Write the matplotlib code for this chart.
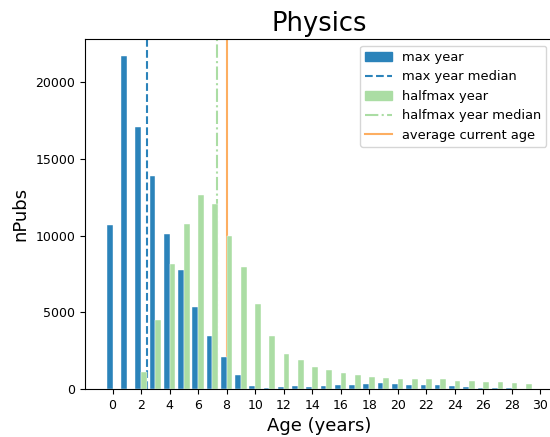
import numpy as np
import matplotlib
matplotlib.use("Agg")
import matplotlib.pyplot as plt
from matplotlib.patches import Patch
from matplotlib.lines import Line2D

# ── Data ──
ages = np.arange(0, 30)
max_year = [10670, 21730, 17050, 13900, 10080, 7740, 5340, 3430, 2060, 890,
            200, 70, 130, 200, 130, 200, 260, 260, 330, 390,
            330, 240, 260, 260, 180, 130, 70, 70, 70, 0]
halfmax_year = [0, 0, 1090, 4470, 8180, 10750, 12670, 12060, 10000, 7980,
                5510, 3430, 2310, 1860, 1420, 1240, 1020, 910, 780, 730,
                670, 620, 620, 620, 490, 490, 430, 430, 360, 310]
max_median = 2.45
halfmax_median = 7.32
avg_current_age = 8.0

c_blue = "#2b83ba"
c_green = "#abdda4"
c_orange = "#fdae61"

# ── Plot ──
fig = plt.figure(figsize=(5.5, 4.37), dpi=100)
ax = fig.add_axes([85 / 550, 48 / 437, 468 / 550, 350 / 437])

ax.bar(ages - 0.4, max_year, width=0.4, align="edge", color=c_blue,
       edgecolor="white", linewidth=0.3, zorder=2)
ax.bar(ages, halfmax_year, width=0.4, align="edge", color=c_green,
       edgecolor="white", linewidth=0.3, zorder=2)
# median / average lines sit behind the bars
ax.axvline(max_median, color=c_blue, linestyle="--", linewidth=1.5, zorder=1)
ax.axvline(halfmax_median, color=c_green, linestyle="-.", linewidth=1.5, zorder=1)
ax.axvline(avg_current_age, color=c_orange, linestyle="-", linewidth=1.5, zorder=1)

ax.set_xlim(-1.93, 30.89)
ax.set_xticks(np.arange(0, 31, 2))
ax.tick_params(labelsize=9)
ax.set_title("Physics", fontsize=18.5)
ax.set_xlabel("Age (years)", fontsize=13)
ax.set_ylabel("nPubs", fontsize=13)

handles = [
    Patch(color=c_blue, label="max year"),
    Line2D([], [], color=c_blue, linestyle="--", label="max year median"),
    Patch(color=c_green, label="halfmax year"),
    Line2D([], [], color=c_green, linestyle="-.", label="halfmax year median"),
    Line2D([], [], color=c_orange, label="average current age"),
]
ax.legend(handles=handles, loc="upper right", fontsize=9.4)

fig.savefig("out.png", dpi=100)
